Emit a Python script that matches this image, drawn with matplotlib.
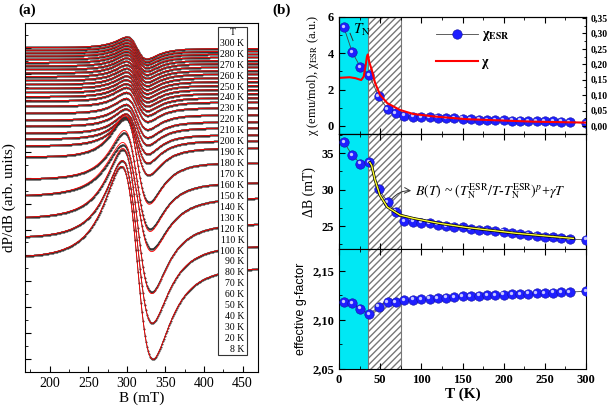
import numpy as np
import matplotlib.pyplot as plt
from matplotlib.ticker import MultipleLocator, FuncFormatter
from matplotlib.transforms import offset_copy
from matplotlib.patches import Rectangle

plt.rcParams['font.family'] = 'Liberation Serif'
plt.rcParams['mathtext.fontset'] = 'stix'

# ---- (a) ESR spectra: per-temperature lineshape parameters
spec_T = [300, 280, 270, 260, 250, 240, 230, 220, 210, 200, 190, 180, 170, 160, 150,
          140, 130, 120, 110, 100, 90, 80, 70, 60, 50, 40, 30, 20, 8]
spec_base = [324, 321.2, 318.3, 315.3, 312.1, 308.9, 305.5, 302, 298.5, 294.8, 291, 287.1,
             283.1, 279, 274.8, 270.5, 265, 258, 251, 245, 238, 232, 225, 212, 191, 175,
             151, 130, 109]
spec_tilt = [1, 1, 1, 1, 1, 1, 1, 1, 1, 1, 1, 1, 1, 1, 1, 1, 1.5, 1.5, 1.5, 1.5, 1.5,
             1.5, 1.5, 5, 2, 0, 3, 5, 6]
spec_amp = [11, 11, 11, 11.2, 11.4, 11.6, 11.8, 12, 12.2, 12.4, 12.6, 12.8, 13, 13.2,
            13.5, 14, 14.5, 15.5, 16.5, 18, 20, 23, 28, 42, 48, 52, 71, 81, 96]
spec_dpp = [26, 26, 26.1, 26.3, 26.4, 26.5, 26.7, 26.8, 27, 27.1, 27.2, 27.3, 27.5, 27.6,
            27.8, 27.9, 28, 28.2, 28.4, 28.5, 28.7, 28.8, 30.2, 31.7, 33.7, 37.7, 37.6,
            38.9, 40.9]
spec_B0 = [313] * 22 + [313.2, 313.3, 313.4, 313.5, 313.5, 313.5, 313.5]
fit_scale = [1.0] * 23 + [1.05, 1.05, 1.05, 1.02, 1.0, 1.0]

# ---- (b) temperature dependences
T = [6, 16, 26, 37, 48, 59, 69, 79, 90, 100, 110, 120, 130, 140, 150, 160, 170, 180,
     190, 200, 210, 220, 230, 240, 250, 260, 270, 280, 300]
chi_esr = [5.43, 4.07, 3.24, 2.8, 1.63, 0.93, 0.70, 0.57, 0.52, 0.50, 0.47, 0.45, 0.43,
           0.42, 0.40, 0.37, 0.35, 0.33, 0.32, 0.31, 0.30, 0.29, 0.28, 0.27, 0.26, 0.25,
           0.23, 0.22, 0.15]
dB = [36.5, 34.7, 33.55, 33.7, 30.1, 28.3, 26.95, 25.7, 25.6, 25.45, 25.35, 25.2, 25.0,
      24.9, 24.8, 24.6, 24.5, 24.4, 24.3, 24.2, 24.05, 23.9, 23.8, 23.65, 23.55, 23.45,
      23.3, 23.2, 23.1]
g_eff = [2.1179, 2.1169, 2.1111, 2.1054, 2.1135, 2.1182, 2.1180, 2.1199, 2.1206, 2.1210,
         2.1215, 2.1220, 2.1225, 2.1230, 2.1238, 2.1242, 2.1245, 2.1248, 2.1252, 2.1255,
         2.1258, 2.1262, 2.1266, 2.1270, 2.1272, 2.1275, 2.1279, 2.1282, 2.1290]

chi_T = [0, 13, 20, 27, 30, 32, 34, 35, 37, 39.7, 43.8, 49.8, 58.7, 74, 90, 115, 155,
         196, 236, 300]
chi = [0.156, 0.158, 0.155, 0.149, 0.16, 0.19, 0.225, 0.232, 0.205, 0.183, 0.140, 0.101,
       0.074, 0.052, 0.039, 0.031, 0.022, 0.018, 0.014, 0.011]

fit_T = [37.5, 39.7, 43.8, 49.8, 58.7, 74.1, 90.3, 120, 155, 215.7, 284.6]
fit_dB = [33.7, 33.3, 31.3, 29.2, 27.6, 26.5, 26.05, 25.4, 24.8, 24.0, 23.3]


def dlor(B, B0, dpp):
    G = dpp * np.sqrt(3) / 2
    x = (B - B0) / G
    return -2 * x / (1 + x ** 2) ** 2 / 0.6495


fig = plt.figure(figsize=(6.1, 4.12), dpi=100)

# ================= panel (a)
axa = fig.add_axes([0.041, 0.097, 0.382, 0.847])
Bf = np.linspace(168, 470, 800)
Bd = np.arange(169, 470, 1.3)
for i in range(len(spec_T)):
    bl_d = spec_base[i] + spec_tilt[i] * (0.5 - (Bd - 170) / 298)
    bl_f = spec_base[i] + spec_tilt[i] * (0.5 - (Bf - 170) / 298)
    yd = bl_d + spec_amp[i] * dlor(Bd, spec_B0[i], spec_dpp[i])
    yf = bl_f + spec_amp[i] * fit_scale[i] * dlor(Bf, spec_B0[i], spec_dpp[i])
    axa.plot(Bd, yd, color='#333333', lw=0.6, marker='o', ms=1.5, mew=0)
    axa.plot(Bf, yf, color='red', lw=0.6)

axa.set_xlim(168, 470)
axa.set_ylim(0, 349)
axa.xaxis.set_major_locator(MultipleLocator(50))
axa.xaxis.set_minor_locator(MultipleLocator(25))
axa.yaxis.set_major_locator(MultipleLocator(25.9, offset=13))
axa.yaxis.set_minor_locator(MultipleLocator(12.95, offset=0.05))
axa.tick_params(which='both', direction='in', labelsize=10)
axa.tick_params(axis='y', labelleft=False)
axa.tick_params(which='major', length=4)
axa.tick_params(which='minor', length=2)
axa.set_xlabel('B (mT)', fontsize=11, labelpad=1)
axa.set_ylabel('dP/dB (arb. units)', fontsize=11, labelpad=3)

# temperature table
x0, x1 = 0.828, 0.953
y0, y1 = 0.049, 0.989
axa.add_patch(Rectangle((x0, y0), x1 - x0, y1 - y0, transform=axa.transAxes,
                        facecolor='white', edgecolor='#333333', lw=0.8, zorder=5))
nrow = len(spec_T) + 1
step = (y1 - y0) / nrow
axa.text((x0 + x1) / 2, y1 - 0.5 * step, 'T', transform=axa.transAxes, ha='center',
         va='center', fontsize=7, zorder=6)
for k, t in enumerate(spec_T):
    axa.text(x1 - 0.012, y1 - (k + 1.5) * step, f'{t} K', transform=axa.transAxes,
             ha='right', va='center', fontsize=7, zorder=6)

# ================= panel (b)
axT = fig.add_axes([0.5557, 0.6748, 0.405, 0.284])
axM = fig.add_axes([0.5557, 0.3956, 0.405, 0.2791])
axB = fig.add_axes([0.5557, 0.1044, 0.405, 0.2913])


def balls(ax, x, y, label=None):
    h, = ax.plot(x, y, color='#444444', lw=0.6, marker='o', ms=6.8, mfc='#1f1fff',
                 mec='#1010a0', mew=0.4, zorder=4, label=label)
    tr = offset_copy(ax.transData, fig=fig, x=-1.0, y=1.0, units='points')
    ax.plot(x, y, ls='none', marker='o', ms=2.4, mfc='#c8c8ff', mec='none',
            transform=tr, zorder=5)
    return h


for ax in (axT, axM, axB):
    ax.axvspan(0, 35, facecolor='#00e8f4', edgecolor='none', zorder=0)
    ax.axvspan(35, 75, facecolor='white', edgecolor='#777777', hatch='/////', lw=0.8,
               zorder=0)
    ax.set_xlim(0, 300)
    ax.xaxis.set_major_locator(MultipleLocator(50))
    ax.xaxis.set_minor_locator(MultipleLocator(25))
    ax.tick_params(which='both', direction='in', top=True, labelsize=9)
    ax.tick_params(which='major', length=4)
    ax.tick_params(which='minor', length=2)
    for lab in ax.get_xticklabels() + ax.get_yticklabels():
        lab.set_fontweight('bold')

# top: chi
h1 = balls(axT, T, chi_esr, label=r'χ$_{\mathbf{ESR}}$')
axT.set_ylim(-0.44, 6.0)
axT.yaxis.set_major_locator(MultipleLocator(2))
axT.yaxis.set_minor_locator(MultipleLocator(1))
axT.tick_params(labelbottom=False)
axT.set_ylabel(r'χ (emu/mol), χ$_{\rm ESR}$ (a.u.)', fontsize=9, labelpad=5)
axT.text(17, 5.3, r'$T_{\rm N}$', fontsize=11, va='center')
axT.plot([13.5, 17], [5.1, 4.7], color='#333333', lw=0.7)
axT2 = axT.twinx()
h2, = axT2.plot(chi_T, chi, color='red', lw=1.5, label='χ')
axT2.set_ylim(-0.44 * 0.0589, 6.0 * 0.0589)
axT2.yaxis.set_major_locator(MultipleLocator(0.05))
axT2.yaxis.set_minor_locator(MultipleLocator(0.025))
axT2.yaxis.set_major_formatter(FuncFormatter(lambda v, p: f'{v:.2f}'.replace('.', ',')))
axT2.tick_params(which='both', direction='in', labelsize=7)
axT2.tick_params(which='major', length=3)
axT2.tick_params(which='minor', length=1.5)
for lab in axT2.get_yticklabels():
    lab.set_fontweight('bold')
leg = axT.legend(handles=[h1, h2], loc='upper left', bbox_to_anchor=(0.37, 0.95),
                 frameon=False, handlelength=3, numpoints=1, fontsize=10,
                 labelspacing=0.9, borderaxespad=0, handletextpad=0.3)
for t in leg.get_texts():
    t.set_fontweight('bold')

# middle: linewidth
balls(axM, T, dB)
axM.plot(fit_T, fit_dB, color='black', lw=2.0, zorder=6)
axM.plot(fit_T, fit_dB, color='#ffff30', lw=1.0, zorder=7)
axM.set_ylim(21.85, 37.6)
axM.yaxis.set_major_locator(MultipleLocator(5))
axM.yaxis.set_minor_locator(MultipleLocator(2.5))
axM.tick_params(labelbottom=False)
axM.set_ylabel('ΔB (mT)', fontsize=10)
axM.annotate('', xy=(91, 29.8), xytext=(62, 28.4),
             arrowprops=dict(arrowstyle='->', color='#333333', lw=0.7,
                             connectionstyle='arc3,rad=-0.3'), zorder=8)
axM.text(92, 29.8, r'$B(T)$ ~ $(T_{\rm N}^{\rm ESR}/T$-$T_{\rm N}^{\rm ESR})^{p}$+$\gamma T$',
         fontsize=10, va='center', zorder=8)

# bottom: g-factor
balls(axB, T, g_eff)
axB.set_ylim(2.05, 2.172)
axB.yaxis.set_major_locator(MultipleLocator(0.05))
axB.yaxis.set_minor_locator(MultipleLocator(0.025))
axB.yaxis.set_major_formatter(FuncFormatter(lambda v, p: f'{v:.2f}'.replace('.', ',')))
axB.set_xlabel('T (K)', fontsize=11, fontweight='bold', labelpad=1)
axB.set_ylabel('effective g-factor', fontsize=9, family='Liberation Sans')
for lab in axB.get_xticklabels() + axB.get_yticklabels():
    lab.set_fontweight('bold')

fig.align_ylabels([axT, axM, axB])

fig.text(0.03, 0.975, '(a)', fontsize=11, fontweight='bold', va='center')
fig.text(0.447, 0.975, '(b)', fontsize=11, fontweight='bold', va='center')

fig.savefig('out.png', dpi=100)
